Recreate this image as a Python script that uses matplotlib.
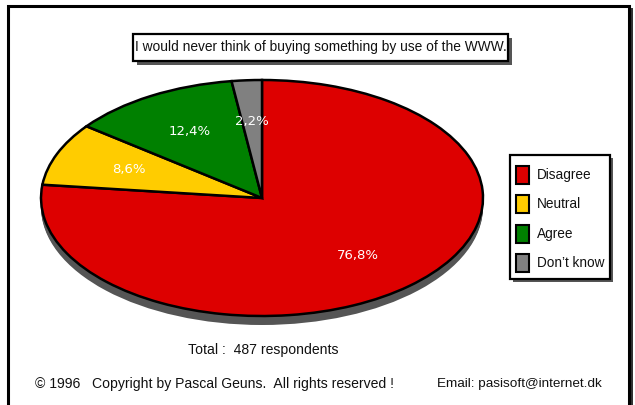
import matplotlib
matplotlib.use("Agg")
import matplotlib.pyplot as plt
from matplotlib.patches import Rectangle, Ellipse

# Survey answers
categories = ["Disagree", "Neutral", "Agree", "Don\u2019t know"]
shares = [76.8, 8.6, 12.4, 2.2]
colors = ["#dd0000", "#ffcc00", "#008000", "#808080"]
question = "I would never think of buying something by use of the WWW."
total_note = "Total :  487 respondents"
copyright_note = "\u00a9 1996   Copyright by Pascal Geuns.  All rights reserved !"
email_note = "Email: pasisoft@internet.dk"

W, H = 635, 405
narrow = ["Liberation Sans", "DejaVu Sans"]
ink = "#111111"

fig = plt.figure(figsize=(W / 100, H / 100), dpi=100)
fig.patch.set_facecolor("white")

# Layout layer in pixel coordinates (y downwards)
lay = fig.add_axes([0, 0, 1, 1], zorder=0)
lay.set_xlim(0, W)
lay.set_ylim(H, 0)
lay.axis("off")

# Outer frame with shadow on the right
lay.add_patch(Rectangle((10, 8), 623, 410, facecolor="#333333", edgecolor="none"))
lay.add_patch(Rectangle((8, 5.5), 621, 410, facecolor="white", edgecolor="black", lw=2.2))

# Question box
lay.add_patch(Rectangle((137, 38), 375, 27, facecolor="#555555", edgecolor="none"))
lay.add_patch(Rectangle((133, 34), 375, 27, facecolor="white", edgecolor="black", lw=1.6))
lay.text(321, 47.5, question, family=narrow, fontsize=9.95, ha="center", va="center", color=ink)

# Legend box
lay.add_patch(Rectangle((513, 158), 100, 124, facecolor="#555555", edgecolor="none"))
lay.add_patch(Rectangle((510, 155), 100, 124, facecolor="white", edgecolor="black", lw=1.6))
for i, (name, col) in enumerate(zip(categories, colors)):
    yc = 175 + i * 29.3
    lay.add_patch(Rectangle((516, yc - 9), 13, 18, facecolor=col, edgecolor="black", lw=1.5))
    lay.text(537, yc, name, family=narrow, fontsize=9.8, ha="left", va="center", color=ink)

# Footer texts
lay.text(263, 350, total_note, family=narrow, fontsize=10.1, ha="center", va="center", color=ink)
lay.text(35, 384, copyright_note, family=narrow, fontsize=10.1, ha="left", va="center", color=ink)
lay.text(602, 384, email_note, family=narrow, fontsize=9.7, ha="right", va="center", color=ink)

# Pie axes: unit radius maps to 221 px across and 118 px high, centred at (262, 198)
cx, cy, rx, ry = 262, 198, 221, 118
ax = fig.add_axes([0, 0, 1, 1], zorder=1)
ax.patch.set_alpha(0)
ax.axis("off")

depth = 9 / ry
for k in range(10):
    off = depth * k / 9
    ax.add_patch(Ellipse((0, -off), 2, 2, facecolor="#555555", edgecolor="none", zorder=0))

wedges, texts, autotexts = ax.pie(
    shares,
    colors=colors,
    startangle=90,
    counterclock=False,
    autopct=lambda p: f"{p:.1f}%".replace(".", ","),
    pctdistance=0.65,
    wedgeprops=dict(edgecolor="black", linewidth=1.8),
    textprops=dict(color="white", fontsize=9.5),
)
for w in wedges:
    w.set_zorder(2)
for t in autotexts:
    t.set_zorder(3)

ax.set_aspect("auto")
ax.set_xlim(-cx / rx, (W - cx) / rx)
ax.set_ylim(-(H - cy) / ry, cy / ry)

fig.savefig("out.png", dpi=100, facecolor="white")
